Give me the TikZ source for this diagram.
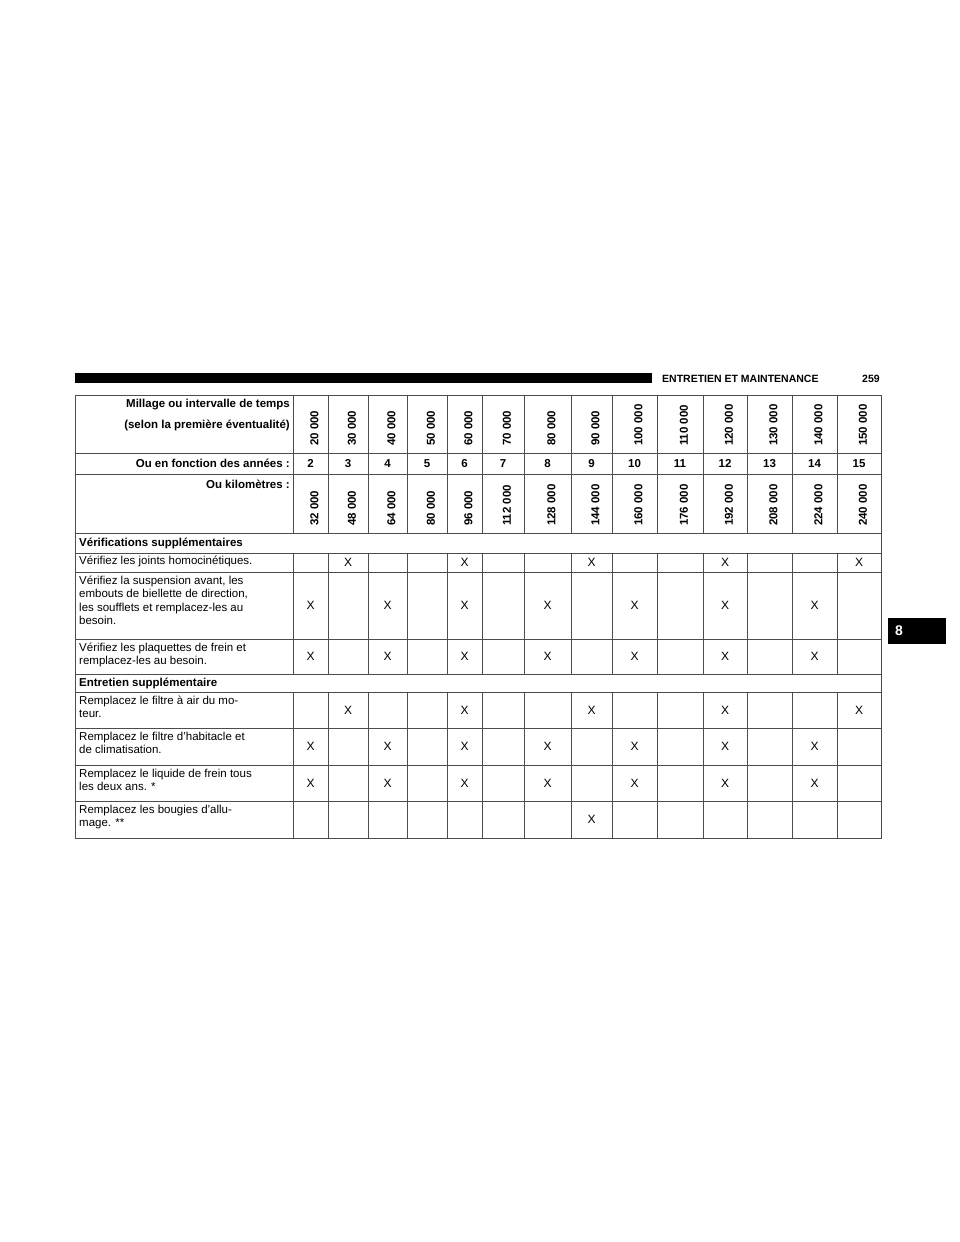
\documentclass[tikz,border=0pt]{standalone}
\usepackage{fontspec}
\setmainfont{Liberation Sans}
\begin{document}
\begin{tikzpicture}[x=1pt,y=-1pt,
  grid/.style={draw=black!70,line width=0.7pt},
  hd/.style={font=\fontsize{11.5}{13}\selectfont\bfseries,inner sep=0pt},
  rt/.style={hd,rotate=90,anchor=west},
  lb/.style={font=\fontsize{11.5}{13.2}\selectfont,align=left,anchor=north west,inner sep=0pt},
  xx/.style={font=\fontsize{12}{13}\selectfont,inner sep=0pt}]
\useasboundingbox (0,0) rectangle (960,1242);
% header bar
\fill (75,373) rectangle (652,383);
\node[hd,anchor=west,font=\fontsize{10.5}{12}\selectfont\bfseries] (title) at (662,378.5) {ENTRETIEN ET MAINTENANCE};
\node[hd,anchor=west,font=\fontsize{10.5}{12}\selectfont\bfseries] (page) at (862,378.5) {259};
% tab
\fill (888,618) rectangle (946,644);
\node[hd,white,anchor=west,font=\fontsize{14}{16}\selectfont\bfseries] (tab) at (895,631) {8};
% grid
\def\cols{293,328,368,407,447,482,524,571,612,657,703,747,792,837,881}
\draw[grid] (75,395) rectangle (881,838);
\foreach \y in {453,474,533,553,572,639,674,692,728,765,801}{\draw[grid] (75,\y)--(881,\y);}
\foreach \x in {293,328,368,407,447,482,524,571,612,657,703,747,792,837}{
  \draw[grid] (\x,395)--(\x,533);
  \draw[grid] (\x,553)--(\x,674);
  \draw[grid] (\x,692)--(\x,838);}
% header labels
\node[hd,anchor=east] (h1) at (290,405) {Millage ou intervalle de temps};
\node[hd,anchor=east] (h2) at (290,425) {(selon la première éventualité)};
\node[hd,anchor=east] (h3) at (290,463.5) {Ou en fonction des années :};
\node[hd,anchor=east] (h4) at (290,484) {Ou kilomètres :};
% centers
\def\cx{310.5,348,387.5,427,464.5,503,547.5,591.5,634.5,680,725,769.5,814.5,859}
\foreach \c [count=\i] in \cx {
  \pgfmathtruncatemacro\m{10+10*\i}
  \pgfmathtruncatemacro\k{16+16*\i}
  \pgfmathtruncatemacro\yr{1+\i}
  \node[rt] (m\i) at (\c+4,446) {\m\ 000};
  \node[hd] (y\i) at (\c,463.5) {\yr};
  \node[rt] (k\i) at (\c+4,526) {\k\ 000};
}
% sections
\node[hd,anchor=west] (s1) at (79,543) {Vérifications supplémentaires};
\node[hd,anchor=west] (s2) at (79,683) {Entretien supplémentaire};
\node[lb] (r1) at (79,556) {Vérifiez les joints homocinétiques.};
\node[lb] (r2) at (79,576) {Vérifiez la suspension avant, les\\embouts de biellette de direction,\\les soufflets et remplacez-les au\\besoin.};
\node[lb] (r3) at (79,643) {Vérifiez les plaquettes de frein et\\remplacez-les au besoin.};
\node[lb] (r4) at (79,696) {Remplacez le filtre à air du mo-\\teur.};
\node[lb] (r5) at (79,732) {Remplacez le filtre d’habitacle et\\de climatisation.};
\node[lb] (r6) at (79,769) {Remplacez le liquide de frein tous\\les deux ans. *};
\node[lb] (r7) at (79,805) {Remplacez les bougies d’allu-\\mage. **};
% X marks
\foreach \c/\y [count=\j] in {348/562.5,464.5/562.5,591.5/562.5,725/562.5,859/562.5,
  348/710,464.5/710,591.5/710,725/710,859/710}{\node[xx] (xa\j) at (\c,\y) {X};}
\foreach \y [count=\r] in {605.5,656.5,746.5,783}{
  \foreach \c [count=\j] in {310.5,387.5,464.5,547.5,634.5,725,814.5}{\node[xx] (xb\r\j) at (\c,\y) {X};}}
\node[xx] (xc) at (591.5,819.5) {X};
\end{tikzpicture}
\end{document}
